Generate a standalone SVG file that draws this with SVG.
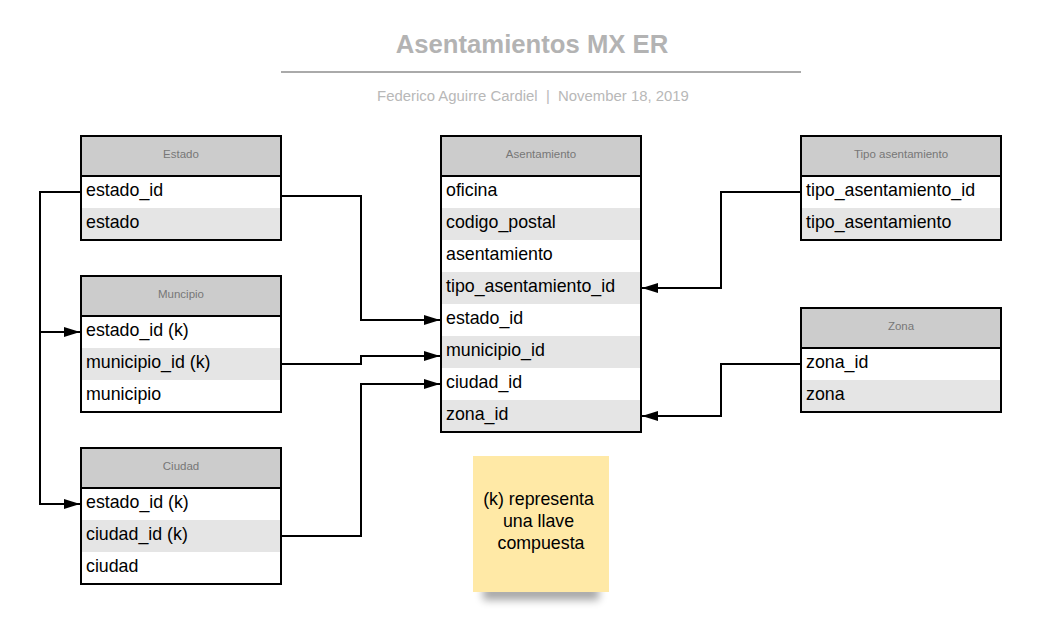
<svg xmlns="http://www.w3.org/2000/svg" width="1044" height="627" viewBox="0 0 1044 627">
<style>
.hdr{fill:#cccccc;stroke:none}
.rw{fill:#ffffff}
.rg{fill:#e5e5e5}
.frame{fill:none;stroke:#000;stroke-width:2}
.sep{stroke:#000;stroke-width:2}
.ht{font-family:"Liberation Sans",Arial,sans-serif;font-size:11.5px;fill:#777;text-anchor:middle}
.ft{font-family:"Liberation Sans",Arial,sans-serif;font-size:17.8px;fill:#000}
.con{fill:none;stroke:#000;stroke-width:2}
</style>
<defs>
<marker id="arr" markerUnits="userSpaceOnUse" markerWidth="16" markerHeight="10" refX="16" refY="5" orient="auto">
<path d="M0,0 L16,5 L0,10 z" fill="#000"/>
</marker>
<filter id="blur" x="-20%" y="-100%" width="140%" height="300%"><feGaussianBlur stdDeviation="4"/></filter>
</defs>
<rect width="1044" height="627" fill="#fff"/>
<g id="title">
<text x="532" y="53" font-family="Liberation Sans,Arial,sans-serif" font-size="25.7" font-weight="bold" fill="#b3b3b3" text-anchor="middle">Asentamientos MX ER</text>
<line x1="281" y1="72" x2="801" y2="72" stroke="#aaaaaa" stroke-width="2"/>
<text x="533" y="101" font-family="Liberation Sans,Arial,sans-serif" font-size="14.9" fill="#b8b8b8" text-anchor="middle" style="white-space:pre" xml:space="preserve">Federico Aguirre Cardiel  |  November 18, 2019</text>
</g>
<g id="estado">
<rect class="hdr" x="81" y="136" width="200" height="40"/>
<rect class="rw" x="81" y="176" width="200" height="32"/>
<rect class="rg" x="81" y="208" width="200" height="32"/>
<line class="sep" x1="81" y1="176" x2="281" y2="176"/>
<rect class="frame" x="81" y="136" width="200" height="104"/>
<text class="ht" x="181" y="158">Estado</text>
<text class="ft" x="86" y="196">estado_id</text>
<text class="ft" x="86" y="228">estado</text>
</g>
<g id="municipio">
<rect class="hdr" x="81" y="276" width="200" height="40"/>
<rect class="rw" x="81" y="316" width="200" height="32"/>
<rect class="rg" x="81" y="348" width="200" height="32"/>
<rect class="rw" x="81" y="380" width="200" height="32"/>
<line class="sep" x1="81" y1="316" x2="281" y2="316"/>
<rect class="frame" x="81" y="276" width="200" height="136"/>
<text class="ht" x="181" y="298">Muncipio</text>
<text class="ft" x="86" y="336">estado_id (k)</text>
<text class="ft" x="86" y="368">municipio_id (k)</text>
<text class="ft" x="86" y="400">municipio</text>
</g>
<g id="ciudad">
<rect class="hdr" x="81" y="448" width="200" height="40"/>
<rect class="rw" x="81" y="488" width="200" height="32"/>
<rect class="rg" x="81" y="520" width="200" height="32"/>
<rect class="rw" x="81" y="552" width="200" height="32"/>
<line class="sep" x1="81" y1="488" x2="281" y2="488"/>
<rect class="frame" x="81" y="448" width="200" height="136"/>
<text class="ht" x="181" y="470">Ciudad</text>
<text class="ft" x="86" y="508">estado_id (k)</text>
<text class="ft" x="86" y="540">ciudad_id (k)</text>
<text class="ft" x="86" y="572">ciudad</text>
</g>
<g id="asentamiento">
<rect class="hdr" x="441" y="136" width="200" height="40"/>
<rect class="rw" x="441" y="176" width="200" height="32"/>
<rect class="rg" x="441" y="208" width="200" height="32"/>
<rect class="rw" x="441" y="240" width="200" height="32"/>
<rect class="rg" x="441" y="272" width="200" height="32"/>
<rect class="rw" x="441" y="304" width="200" height="32"/>
<rect class="rg" x="441" y="336" width="200" height="32"/>
<rect class="rw" x="441" y="368" width="200" height="32"/>
<rect class="rg" x="441" y="400" width="200" height="32"/>
<line class="sep" x1="441" y1="176" x2="641" y2="176"/>
<rect class="frame" x="441" y="136" width="200" height="296"/>
<text class="ht" x="541" y="158">Asentamiento</text>
<text class="ft" x="446" y="196">oficina</text>
<text class="ft" x="446" y="228">codigo_postal</text>
<text class="ft" x="446" y="260">asentamiento</text>
<text class="ft" x="446" y="292">tipo_asentamiento_id</text>
<text class="ft" x="446" y="324">estado_id</text>
<text class="ft" x="446" y="356">municipio_id</text>
<text class="ft" x="446" y="388">ciudad_id</text>
<text class="ft" x="446" y="420">zona_id</text>
</g>
<g id="tipo_asentamiento">
<rect class="hdr" x="801" y="136" width="200" height="40"/>
<rect class="rw" x="801" y="176" width="200" height="32"/>
<rect class="rg" x="801" y="208" width="200" height="32"/>
<line class="sep" x1="801" y1="176" x2="1001" y2="176"/>
<rect class="frame" x="801" y="136" width="200" height="104"/>
<text class="ht" x="901" y="158">Tipo asentamiento</text>
<text class="ft" x="806" y="196">tipo_asentamiento_id</text>
<text class="ft" x="806" y="228">tipo_asentamiento</text>
</g>
<g id="zona">
<rect class="hdr" x="801" y="308" width="200" height="40"/>
<rect class="rw" x="801" y="348" width="200" height="32"/>
<rect class="rg" x="801" y="380" width="200" height="32"/>
<line class="sep" x1="801" y1="348" x2="1001" y2="348"/>
<rect class="frame" x="801" y="308" width="200" height="104"/>
<text class="ht" x="901" y="330">Zona</text>
<text class="ft" x="806" y="368">zona_id</text>
<text class="ft" x="806" y="400">zona</text>
</g>
<g id="note">
<rect x="483" y="586" width="116" height="14" fill="#000" opacity="0.35" filter="url(#blur)"/>
<rect x="473" y="456" width="136" height="136" fill="#ffe9a6"/>
<text font-family="Liberation Sans,Arial,sans-serif" font-size="17.8" fill="#000" text-anchor="middle">
<tspan x="541" y="505">(k) representa</tspan>
<tspan x="541" y="527">una llave</tspan>
<tspan x="541" y="549">compuesta</tspan>
</text>
</g>
<g id="connectors">
<path class="con" d="M81,192 H40 V504 H80" marker-end="url(#arr)"/>
<path class="con" d="M40,332 H80" marker-end="url(#arr)"/>
<path class="con" d="M281,196 H361 V320 H440" marker-end="url(#arr)"/>
<path class="con" d="M281,364 H361 V356 H440" marker-end="url(#arr)"/>
<path class="con" d="M281,536 H361 V384 H440" marker-end="url(#arr)"/>
<path class="con" d="M801,192 H721 V288 H642" marker-end="url(#arr)"/>
<path class="con" d="M801,364 H721 V416 H642" marker-end="url(#arr)"/>
</g>
</svg>
